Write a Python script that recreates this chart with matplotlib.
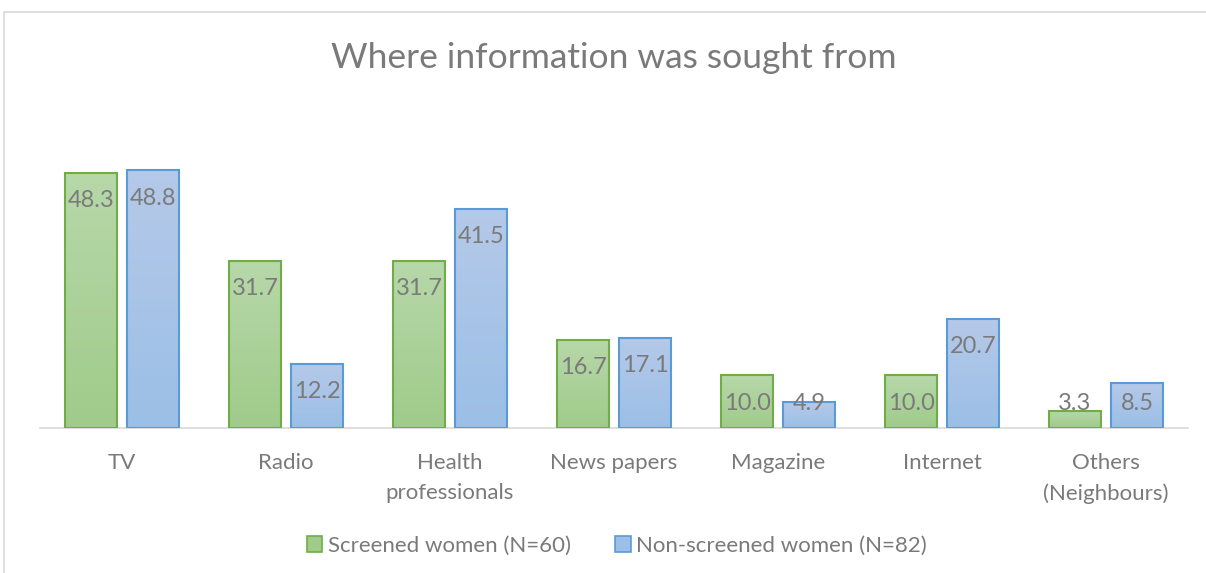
import matplotlib.pyplot as plt
import matplotlib.patches as patches
import numpy as np

plt.rcParams['font.family'] = ['Lato', 'DejaVu Sans']

# Dados: percentagem de mulheres por fonte de informação
categorias = ['TV', 'Radio', 'Health\nprofessionals', 'News papers', 'Magazine', 'Internet', 'Others\n(Neighbours)']
rastreadas = [48.3, 31.7, 31.7, 16.7, 10.0, 10.0, 3.3]
nao_rastreadas = [48.8, 12.2, 41.5, 17.1, 4.9, 20.7, 8.5]
series_nomes = ['Screened women (N=60)', 'Non-screened women (N=82)']
titulo = 'Where information was sought from'

cinza_texto = '#7a7a7a'
verde = ('#b7d8a9', '#a0cb8b', '#70ad47')   # topo, base, contorno
azul = ('#b5c9e9', '#9bbfe6', '#5b9bd5')

fig = plt.figure(figsize=(12.06, 5.73), dpi=100)
W, H = 1206, 573
base_px, topo_px = 428, 111
ax = fig.add_axes([40 / W, 1 - base_px / H, 1148 / W, (base_px - topo_px) / H])

x = np.arange(len(categorias))
largura = 0.317
desloc = 0.189


def barras_gradiente(ax, posicoes, valores, cores):
    topo, base, borda = cores
    c1 = np.array(plt.matplotlib.colors.to_rgb(topo))
    c2 = np.array(plt.matplotlib.colors.to_rgb(base))
    grad = np.linspace(0, 1, 64)[:, None]
    img = (c1[None, :] * (1 - grad) + c2[None, :] * grad)[:, None, :]
    for xc, v in zip(posicoes, valores):
        x0, x1 = xc - largura / 2, xc + largura / 2
        ax.imshow(img, extent=[x0, x1, 0, v], origin='upper', aspect='auto', zorder=2)
        ax.add_patch(patches.Rectangle((x0, 0), largura, v, fill=False,
                                       edgecolor=borda, linewidth=1.5, zorder=3))
        # rótulo perto do topo, mas nunca abaixo de uma altura mínima
        y_rot = max(v - 5.3, 4.7)
        ax.text(xc, y_rot, f'{v:.1f}', ha='center', va='center',
                fontsize=17, color=cinza_texto, zorder=4)


barras_gradiente(ax, x - desloc, rastreadas, verde)
barras_gradiente(ax, x + desloc, nao_rastreadas, azul)

ax.set_xlim(-0.5, len(categorias) - 0.5)
ax.set_ylim(0, 60)
ax.set_xticks(x)
ax.set_xticklabels(categorias, fontsize=16, color=cinza_texto, linespacing=1.6)
ax.tick_params(axis='x', length=0, pad=18)
ax.set_yticks([])
for lado in ['top', 'right', 'left']:
    ax.spines[lado].set_visible(False)
ax.spines['bottom'].set_color('#d9d9d9')
ax.spines['bottom'].set_linewidth(1.2)
ax.spines['bottom'].set_zorder(1)
ax.set_facecolor('none')

fig.text(614 / W, 1 - 58 / H, titulo, ha='center', va='center', fontsize=25.5, color='#7a7a7a')

# legenda
alcas = [patches.Patch(facecolor=verde[1], edgecolor=verde[2], linewidth=1.2),
         patches.Patch(facecolor=azul[1], edgecolor=azul[2], linewidth=1.2)]
leg = fig.legend(alcas, series_nomes, loc='center', bbox_to_anchor=(617 / W, 1 - 546 / H),
                 ncol=2, frameon=False, fontsize=16, handlelength=0.7, handleheight=0.7,
                 handletextpad=0.25, columnspacing=2.0)
for t in leg.get_texts():
    t.set_color(cinza_texto)

# moldura da área do gráfico
fig.patches.append(patches.Rectangle((4 / W, -0.1), 1.2, (H - 12) / H + 0.1, transform=fig.transFigure,
                                     fill=False, edgecolor='#d9d9d9', linewidth=1.2))

fig.savefig('out.png', dpi=100, facecolor='white')
